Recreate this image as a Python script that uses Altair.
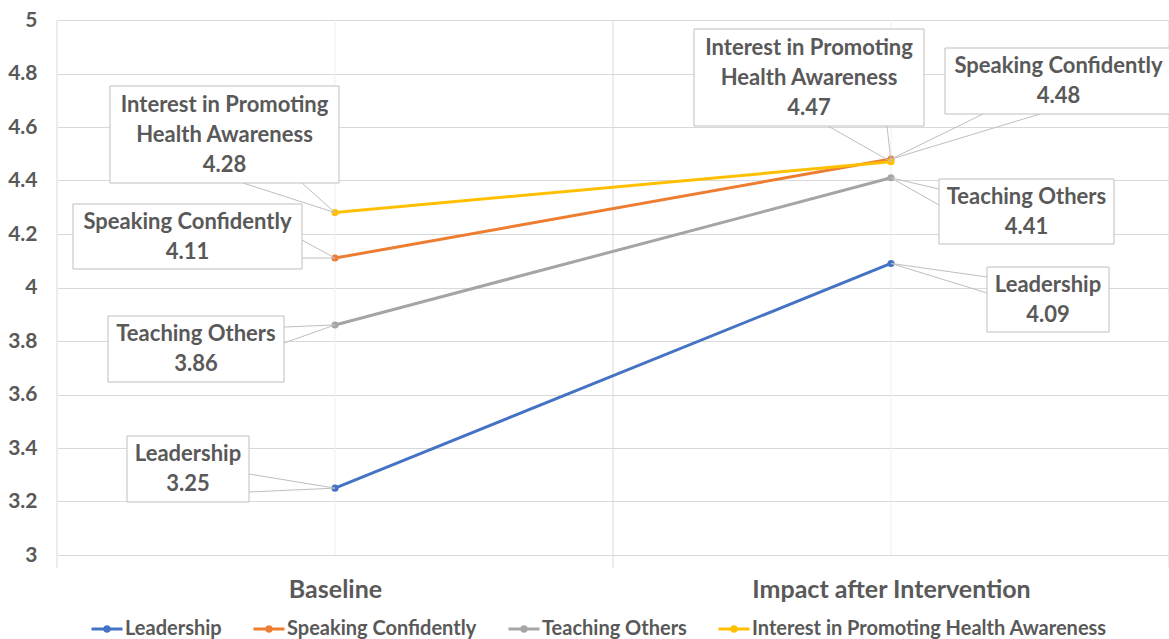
import altair as alt
import pandas as pd

# ---------------- data ----------------
categories = ["Baseline", "Impact after Intervention"]
series = ["Leadership", "Speaking Confidently", "Teaching Others",
          "Interest in Promoting Health Awareness"]
baseline_vals = [3.25, 4.11, 3.86, 4.28]
impact_vals = [4.09, 4.48, 4.41, 4.47]
colors = ["#4472C4", "#ED7D31", "#A5A5A5", "#FFC000"]
callout_names = [["Leadership"], ["Speaking Confidently"], ["Teaching Others"],
                 ["Interest in Promoting", "Health Awareness"]]
y_ticks = [3, 3.2, 3.4, 3.6, 3.8, 4, 4.2, 4.4, 4.6, 4.8, 5]

# ---------------- layout (pixels) ----------------
L, T, W, H = 57, 20, 1112, 535
YMIN, YMAX = 3, 5
FONT = "Lato"
TXT = "#595959"
GRID = "#d9d9d9"
LINE_H = 30


def xd(px):
    return -0.5 + (px - L) * 2 / W


def yd(py):
    return YMAX - (py - T) * (YMAX - YMIN) / H


# (series index, category index): (box x0, x1, y0, y1), leader bases
callout_layout = {
    (0, 0): ((127, 249, 436, 502), [(249, 474), (249, 492)]),
    (1, 0): ((73, 302, 204, 269), [(302, 240), (302, 258)]),
    (2, 0): ((108, 284, 316, 382), [(284, 327), (284, 343)]),
    (3, 0): ((110, 339, 86, 183), [(243, 183), (302, 183)]),
    (0, 1): ((987, 1109, 267, 332), [(987, 277), (987, 293)]),
    (1, 1): ((945, 1172, 48, 114), [(983, 114), (1040, 114)]),
    (2, 1): ((939, 1114, 179, 244), [(939, 189), (939, 205)]),
    (3, 1): ((694, 924, 29, 126), [(828, 126), (887, 126)]),
}

rows = []
for si, s in enumerate(series):
    for ci, vals in enumerate([baseline_vals, impact_vals]):
        rows.append({"series": s, "cat": ci, "value": vals[si]})
df = pd.DataFrame(rows)

box_rows, text_rows, leader_rows = [], [], []
for (si, ci), (box, bases) in callout_layout.items():
    v = [baseline_vals, impact_vals][ci][si]
    x0, x1, y0, y1 = box
    box_rows.append({"x0": xd(x0), "x1": xd(x1), "y0": yd(y0), "y1": yd(y1)})
    lines_txt = callout_names[si] + [f"{v:.2f}"]
    n = len(lines_txt)
    cy = (y0 + y1) / 2
    for i, t in enumerate(lines_txt):
        text_rows.append({
            "xc": xd((x0 + x1) / 2),
            "yc": yd(cy + (i - (n - 1) / 2) * LINE_H),
            "label": t,
        })
    cid = f"{si}-{ci}"
    leader_rows += [
        {"cid": cid, "o": 0, "x": xd(bases[0][0]), "y": yd(bases[0][1])},
        {"cid": cid, "o": 1, "x": ci, "y": v},
        {"cid": cid, "o": 2, "x": xd(bases[1][0]), "y": yd(bases[1][1])},
    ]
boxes = pd.DataFrame(box_rows)
texts = pd.DataFrame(text_rows)
leaders = pd.DataFrame(leader_rows)

vgrid = pd.DataFrame({"v": [-0.5, 0.5, 1.5]})
vgrid_light = pd.DataFrame({"v": [0, 1]})

xscale = alt.Scale(domain=[-0.5, 1.5], nice=False, zero=False)
yscale = alt.Scale(domain=[YMIN, YMAX], nice=False, zero=False)

label_expr = "[" + ",".join(f"'{c}'" for c in categories) + "][datum.value]"

legend_symbol = ("M-1,0L1,0M-0.15,0a0.15,0.15 0 1,0 0.3,0"
                 "a0.15,0.15 0 1,0 -0.3,0")

x_axis = alt.Axis(values=[0, 1], labelExpr=label_expr, grid=False,
                  domain=False, ticks=False, tickSize=0,
                  labelFont=FONT, labelFontSize=25,
                  labelFontWeight="bold", labelColor=TXT,
                  labelPadding=22, labelFlush=False, labelOverlap=False,
                  labelLimit=600)
y_axis = alt.Axis(values=y_ticks, format=".1~f", grid=True,
                  gridColor=GRID, domain=False, ticks=False,
                  tickSize=0, labelFont=FONT, labelFontSize=21,
                  labelFontWeight="bold", labelColor=TXT,
                  labelPadding=20)

grid_light = alt.Chart(vgrid_light).mark_rule(color="#efefef", strokeWidth=1).encode(
    x=alt.X("v:Q", scale=xscale, axis=x_axis, title=None),
    y=alt.value(0), y2=alt.value(H),
)
grid_main = alt.Chart(vgrid).mark_rule(color=GRID, strokeWidth=1).encode(
    x=alt.X("v:Q", scale=xscale),
    y=alt.value(0), y2=alt.value(H + 13),
)

lines = alt.Chart(df).mark_line(strokeWidth=3).encode(
    x=alt.X("cat:Q", scale=xscale),
    y=alt.Y("value:Q", scale=yscale, title=None, axis=y_axis),
    color=alt.Color("series:N", sort=series,
                    scale=alt.Scale(domain=series, range=colors),
                    legend=alt.Legend(orient="none", legendX=33, legendY=592,
                                      direction="horizontal", columns=4,
                                      title=None, symbolType=legend_symbol,
                                      symbolSize=961, symbolStrokeWidth=3,
                                      labelFont=FONT, labelFontSize=20,
                                      labelFontWeight="bold", labelColor=TXT,
                                      labelLimit=600, labelOffset=1,
                                      columnPadding=25)),
    order=alt.Order("cat:Q"),
)

points = alt.Chart(df).mark_point(filled=True, size=50, opacity=1).encode(
    x=alt.X("cat:Q", scale=xscale),
    y=alt.Y("value:Q", scale=yscale),
    color=alt.Color("series:N", scale=alt.Scale(domain=series, range=colors),
                    legend=None),
)

leader_lines = alt.Chart(leaders).mark_line(color="#bfbfbf", strokeWidth=1).encode(
    x=alt.X("x:Q", scale=xscale),
    y=alt.Y("y:Q", scale=yscale),
    detail="cid:N",
    order="o:Q",
)

box_rects = alt.Chart(boxes).mark_rect(fill="white", stroke="#bfbfbf",
                                       strokeWidth=1).encode(
    x=alt.X("x0:Q", scale=xscale), x2="x1:Q",
    y=alt.Y("y0:Q", scale=yscale), y2="y1:Q",
)

box_text = alt.Chart(texts).mark_text(
    font=FONT, fontSize=22, fontWeight="bold", color=TXT,
    align="center", baseline="middle",
).encode(
    x=alt.X("xc:Q", scale=xscale),
    y=alt.Y("yc:Q", scale=yscale),
    text="label:N",
)

chart = alt.layer(
    grid_light, grid_main, lines, points, leader_lines, box_rects, box_text
).properties(
    width=W, height=H,
    autosize=alt.AutoSizeParams(type="none"),
    padding={"left": L, "top": T, "right": 0, "bottom": 639 - T - H},
    background="white",
).configure_view(stroke=None).resolve_scale(color="independent")

chart.save("out.html", embed_options={"renderer": "svg", "actions": False})
